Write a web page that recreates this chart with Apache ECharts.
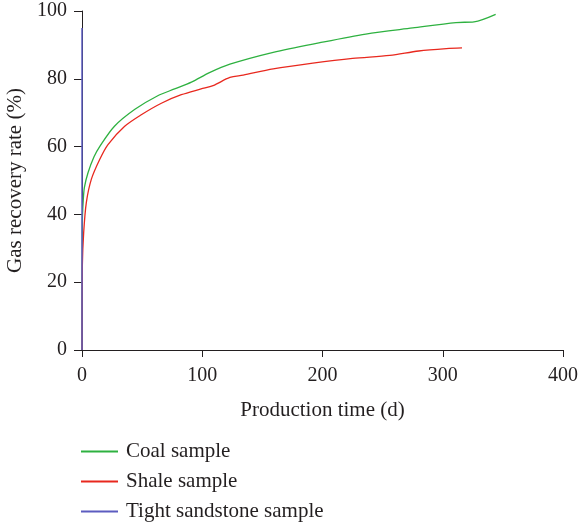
<!DOCTYPE html>
<html>
<head>
<meta charset="utf-8">
<style>
  html, body { margin: 0; padding: 0; background: #fff; }
  #chart { width: 580px; height: 528px; }
</style>
<script src="https://cdn.jsdelivr.net/npm/echarts@6/dist/echarts.min.js"></script>
</head>
<body>
<div id="chart"></div>
<script>
// Production time (d) vs. gas recovery rate (%) for three samples
const seriesNames = ['Coal sample', 'Shale sample', 'Tight sandstone sample'];

const coalTime = [0, 0.3, 1, 2, 5, 10, 14.7, 27, 44, 63, 77, 91, 106, 123, 159, 197, 236, 275, 311, 326, 344];
const coalRate = [0, 38, 44, 48, 52.3, 57, 60, 66, 71, 75, 77, 79, 81.8, 84.3, 87.8, 90.6, 93.2, 95, 96.6, 96.8, 99];

const shaleTime = [0, 0.3, 1.4, 3.6, 7.8, 14.7, 21.6, 35.5, 49.3, 66, 82.6, 99, 109, 123, 134, 159, 192, 225, 256, 280, 303, 316];
const shaleRate = [0, 25, 34.7, 43.5, 50.4, 56.2, 60.6, 66, 69.4, 72.8, 75.3, 77, 78, 80.4, 81.1, 82.9, 84.6, 86, 86.9, 88.2, 88.9, 89.1];

const sandTime = [0, 0];
const sandRate = [0, 95];

const xTicks = [0, 100, 200, 300, 400];
const yTicks = [0, 20, 40, 60, 80, 100];

const colors = ['#2eb140', '#e8281e', '#5c5cc0'];

function pairs(xs, ys) {
  return xs.map((x, i) => [x, ys[i]]);
}

const font = 'Liberation Serif';
const textColor = '#231f20';

const chart = echarts.init(document.getElementById('chart'), null, { renderer: 'canvas' });
chart.setOption({
  animation: false,
  backgroundColor: '#ffffff',
  color: colors,
  grid: { left: 82, right: 17, top: 11, bottom: 178, containLabel: false, outerBoundsMode: 'none' },
  legend: {
    orient: 'vertical',
    left: 81,
    top: 441,
    height: 87,
    padding: 0,
    itemWidth: 37,
    itemHeight: 2,
    itemGap: 9,
    icon: 'rect',
    data: seriesNames,
    textStyle: { fontFamily: font, fontSize: 21, color: textColor, lineHeight: 20, padding: [0, 0, 0, 3] }
  },
  xAxis: {
    type: 'value',
    min: xTicks[0],
    max: xTicks[xTicks.length - 1],
    interval: xTicks[1] - xTicks[0],
    name: 'Production time (d)',
    nameLocation: 'middle',
    nameGap: 50,
    nameTextStyle: { fontFamily: font, fontSize: 21, color: textColor },
    axisLine: { onZero: false, lineStyle: { color: '#231f20', width: 1 } },
    axisTick: { length: 7, lineStyle: { color: '#231f20', width: 1 } },
    axisLabel: { fontFamily: font, fontSize: 20, color: textColor, margin: 16 },
    splitLine: { show: false }
  },
  yAxis: {
    type: 'value',
    min: yTicks[0],
    max: yTicks[yTicks.length - 1],
    interval: yTicks[1] - yTicks[0],
    name: 'Gas recovery rate (%)',
    nameLocation: 'middle',
    nameGap: 54,
    nameRotate: 90,
    nameTextStyle: { fontFamily: font, fontSize: 21, color: textColor },
    axisLine: { show: true, onZero: false, lineStyle: { color: '#231f20', width: 1 } },
    axisTick: { show: true, length: 8, lineStyle: { color: '#231f20', width: 1 } },
    axisLabel: { fontFamily: font, fontSize: 20, color: textColor, margin: 15 },
    splitLine: { show: false }
  },
  series: [
    {
      name: seriesNames[0], type: 'line', data: pairs(coalTime, coalRate),
      showSymbol: false, smooth: 0.3, lineStyle: { width: 1.3 }, clip: false
    },
    {
      name: seriesNames[1], type: 'line', data: pairs(shaleTime, shaleRate),
      showSymbol: false, smooth: 0.3, lineStyle: { width: 1.3 }, clip: false
    },
    {
      name: seriesNames[2], type: 'line', data: pairs(sandTime, sandRate),
      showSymbol: false, lineStyle: { width: 1.5 }, clip: false
    }
  ]
});
</script>
</body>
</html>
